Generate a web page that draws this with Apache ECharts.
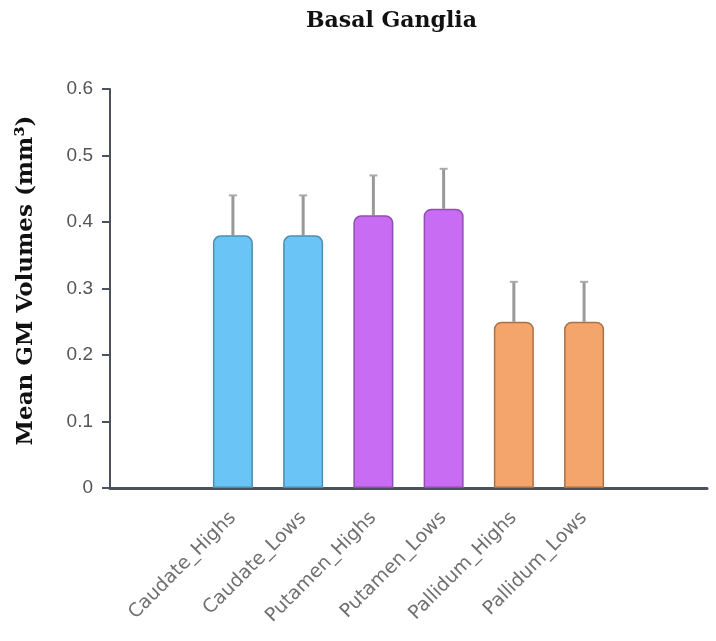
<!DOCTYPE html>
<html>
<head>
<meta charset="utf-8">
<script src="https://cdn.jsdelivr.net/npm/echarts@6/dist/echarts.min.js"></script>
<style>
  html, body { margin: 0; padding: 0; background: #fff; }
  #chart { width: 716px; height: 641px; }
</style>
</head>
<body>
<div id="chart"></div>
<script>
// regions and their values
var categories = ['Caudate_Highs', 'Caudate_Lows', 'Putamen_Highs', 'Putamen_Lows', 'Pallidum_Highs', 'Pallidum_Lows']
var means = [0.38, 0.38, 0.41, 0.42, 0.25, 0.25]
var errors = [0.06, 0.06, 0.06, 0.06, 0.06, 0.06]
var yTicks = [0, 0.1, 0.2, 0.3, 0.4, 0.5, 0.6]

var fills = ['#6bc4f6', '#6bc4f6', '#c86cf3', '#c86cf3', '#f4a56c', '#f4a56c']
var borders = ['#4d8fae', '#4d8fae', '#8f4fae', '#8f4fae', '#ab7144', '#ab7144']

// the axis is padded with empty half-width slots on both sides
var pad = 3
var slots = []
for (var i = 0; i < pad; i++) slots.push('')
categories.forEach(function (c, k) {
  slots.push(c)
  if (k < categories.length - 1) slots.push('')
})
for (var i = 0; i < pad; i++) slots.push('')

function slotIndex (k) { return pad + k * 2 }

var barData = slots.map(function () { return null })
means.forEach(function (v, k) {
  barData[slotIndex(k)] = {
    value: v,
    itemStyle: { color: fills[k], borderColor: borders[k] }
  }
})
var errData = means.map(function (v, k) { return [slotIndex(k), v, v + errors[k]] })

var chart = echarts.init(document.getElementById('chart'))
chart.setOption({
  animation: false,
  title: {
    text: 'Basal Ganglia',
    left: 301,
    top: 5,
    textStyle: { fontFamily: 'DejaVu Serif', fontWeight: 'bold', fontSize: 22, color: '#111' }
  },
  grid: { left: 110, right: 9, top: 89, bottom: 153 },
  xAxis: {
    type: 'category',
    data: slots,
    axisLine: { lineStyle: { color: '#4b525e', width: 3 } },
    axisTick: { show: false },
    axisLabel: {
      interval: 0,
      rotate: 45,
      margin: 27,
      color: '#707070',
      fontSize: 19,
      fontFamily: 'DejaVu Sans'
    }
  },
  yAxis: {
    type: 'value',
    min: 0,
    max: 0.6,
    interval: 0.1,
    name: 'Mean GM Volumes (mm³)',
    nameLocation: 'middle',
    nameGap: 72,
    nameTextStyle: {
      fontFamily: 'DejaVu Serif', fontWeight: 'bold', fontSize: 23, color: '#111',
      padding: [0, 0, 0, 16]
    },
    axisLine: { show: true, lineStyle: { color: '#4b525e', width: 2 } },
    axisTick: { show: true, length: 8, lineStyle: { color: '#4b525e', width: 2 } },
    splitLine: { show: false },
    axisLabel: {
      color: '#555',
      fontSize: 19,
      fontFamily: 'Liberation Sans',
      margin: 17,
      formatter: function (v) {
        var t = yTicks.find(function (y) { return Math.abs(y - v) < 1e-9 })
        return t === 0 ? '0' : String(t)
      }
    }
  },
  series: [
    {
      type: 'bar',
      data: barData,
      barWidth: 40,
      itemStyle: { borderWidth: 1.5, borderRadius: [7, 7, 0, 0] }
    },
    {
      type: 'custom',
      data: errData,
      z: 1,
      renderItem: function (params, api) {
        var lo = api.coord([api.value(0), api.value(1)])
        var hi = api.coord([api.value(0), api.value(2)])
        return {
          type: 'group',
          children: [
            { type: 'line', shape: { x1: lo[0], y1: lo[1], x2: hi[0], y2: hi[1] },
              style: { stroke: '#999', lineWidth: 3 } },
            { type: 'line', shape: { x1: hi[0] - 4, y1: hi[1], x2: hi[0] + 4, y2: hi[1] },
              style: { stroke: '#aaa', lineWidth: 2 } }
          ]
        }
      }
    }
  ]
})
</script>
</body>
</html>
